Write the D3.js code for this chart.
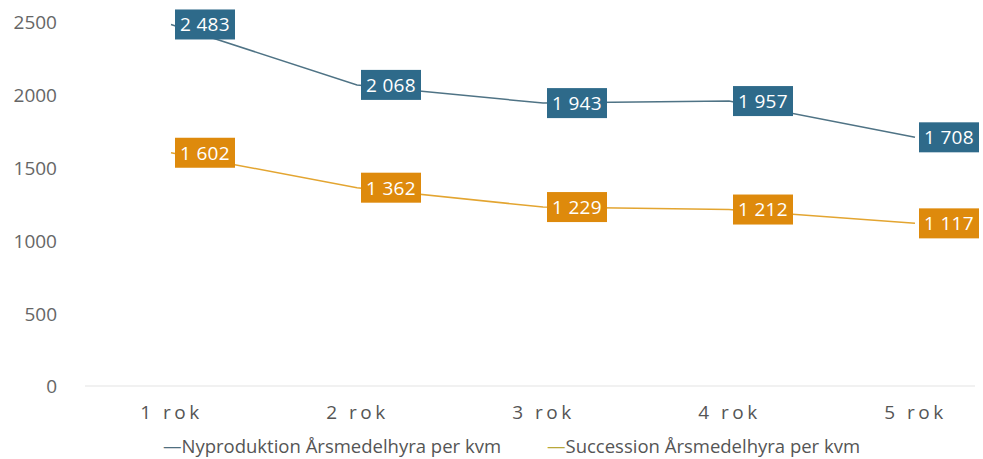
<!DOCTYPE html>
<html>
<head>
<meta charset="utf-8">
<script src="https://cdn.jsdelivr.net/npm/d3@7"></script>
<style>
  body { margin: 0; background: #fff; }
  text { font-family: "Open Sans", sans-serif; }
</style>
</head>
<body>
<script>
var width = 983;
var height = 459;

var categories = ["1 rok", "2 rok", "3 rok", "4 rok", "5 rok"];
var nyproduktion = [2483, 2068, 1943, 1957, 1708];
var succession = [1602, 1362, 1229, 1212, 1117];
var yTicks = [0, 500, 1000, 1500, 2000, 2500];

var series = [
  { name: "Nyproduktion Årsmedelhyra per kvm", values: nyproduktion, line: "#4f7385", box: "#2e6a8a", dash: "#4f6f80" },
  { name: "Succession Årsmedelhyra per kvm", values: succession, line: "#e3a531", box: "#de8a0c", dash: "#b9a83a" }
];

var svg = d3.select("body").append("svg")
  .attr("width", width)
  .attr("height", height);

var x = d3.scalePoint()
  .domain(categories)
  .range([171, 915]);

var y = d3.scaleLinear()
  .domain([0, 2500])
  .range([386, 22]);

// faint baseline
svg.append("line")
  .attr("x1", 85).attr("x2", 975)
  .attr("y1", y(0)).attr("y2", y(0))
  .style("stroke", "#f1f1f1")
  .style("stroke-width", 2);

// y axis
var yAxis = d3.axisLeft(y).tickValues(yTicks).tickFormat(d3.format("d")).tickSize(0).tickPadding(0);
var ga = svg.append("g")
  .attr("transform", "translate(57,0)")
  .call(yAxis);
ga.select(".domain").remove();
ga.selectAll("text")
  .style("font-size", "19px")
  .style("fill", "#666")
  .attr("dy", "0.36em");

// x labels
var xAxis = d3.axisBottom(x).tickSize(0).tickPadding(0);
var gx = svg.append("g")
  .attr("transform", "translate(0,405)")
  .call(xAxis);
gx.select(".domain").remove();
gx.selectAll("text")
  .style("font-size", "19px")
  .style("fill", "#555")
  .style("letter-spacing", "3.5px")
  .attr("dy", "0.71em");

var line = d3.line()
  .x(function(d, i) { return x(categories[i]); })
  .y(function(d) { return y(d); });

var fmt = function(v) {
  return d3.format(",")(v).replace(",", " ");
};

series.forEach(function(s) {
  svg.append("path")
    .datum(s.values)
    .attr("d", line)
    .style("fill", "none")
    .style("stroke", s.line)
    .style("stroke-width", 1.5);

  var lab = svg.append("g").selectAll("g")
    .data(s.values)
    .enter().append("g")
    .attr("transform", function(d, i) {
      return "translate(" + (x(categories[i]) + 4) + "," + y(d) + ")";
    });

  lab.append("rect")
    .attr("x", 0)
    .attr("y", -15)
    .attr("width", 60)
    .attr("height", 30)
    .style("fill", s.box);

  lab.append("text")
    .attr("x", 30)
    .attr("y", 0)
    .attr("dy", "0.36em")
    .attr("text-anchor", "middle")
    .style("font-size", "19px")
    .style("letter-spacing", "0.3px")
    .style("fill", "#fff")
    .text(fmt);
});

// legend
var legX = [163, 547];
series.forEach(function(s, i) {
  var t = svg.append("text")
    .attr("x", legX[i])
    .attr("y", 453)
    .style("font-size", "18.5px")
    .style("fill", "#555");
  t.append("tspan").style("fill", s.dash).text("\u2014");
  t.append("tspan").text(s.name);
});
</script>
</body>
</html>
